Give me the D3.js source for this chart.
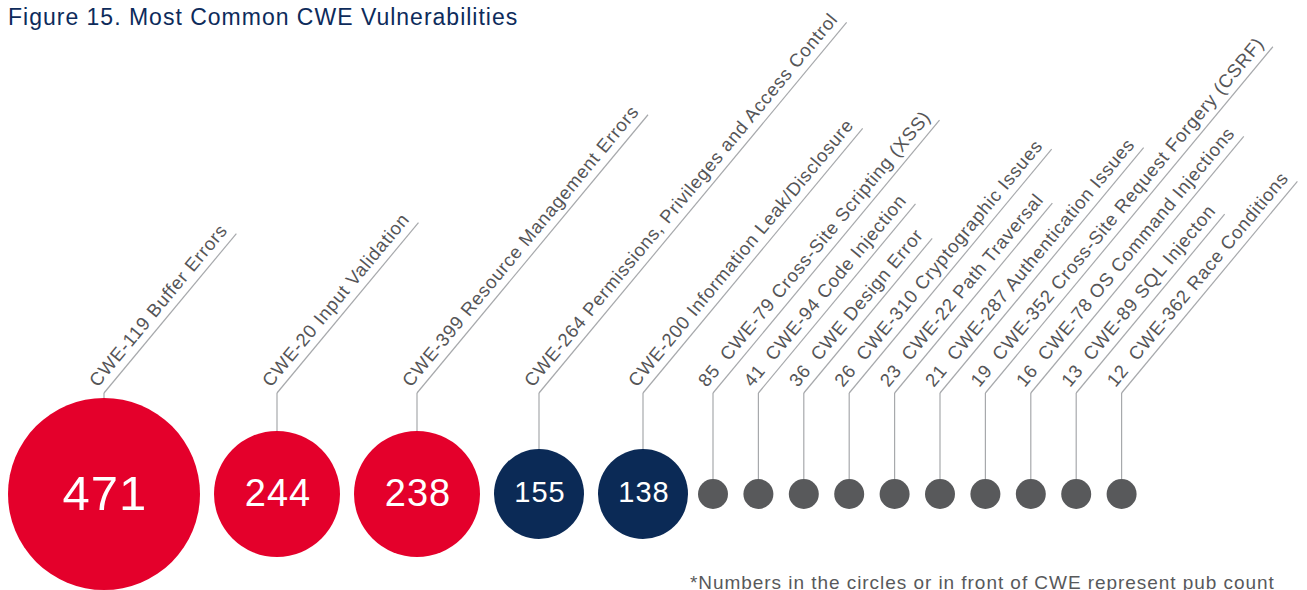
<!DOCTYPE html>
<html>
<head>
<meta charset="utf-8">
<script src="https://cdn.jsdelivr.net/npm/d3@7"></script>
<style>
  html, body { margin: 0; padding: 0; background: #ffffff; }
  svg { display: block; font-family: "Liberation Sans", Arial, sans-serif; }
</style>
</head>
<body>
<svg id="chart" width="1307" height="590"></svg>
<script>
// ---- data ----
const titleText = "Figure 15. Most Common CWE Vulnerabilities";
const footnoteText = "*Numbers in the circles or in front of CWE represent pub count";
const categories = [
  "CWE-119 Buffer Errors",
  "CWE-20 Input Validation",
  "CWE-399 Resource Management Errors",
  "CWE-264 Permissions, Privileges and Access Control",
  "CWE-200 Information Leak/Disclosure",
  "CWE-79 Cross-Site Scripting (XSS)",
  "CWE-94 Code Injection",
  "CWE Design Error",
  "CWE-310 Cryptographic Issues",
  "CWE-22 Path Traversal",
  "CWE-287 Authentication Issues",
  "CWE-352 Cross-Site Request Forgery (CSRF)",
  "CWE-78 OS Command Injections",
  "CWE-89 SQL Injecton",
  "CWE-362 Race Conditions"
];
const counts = [471, 244, 238, 155, 138, 85, 41, 36, 26, 23, 21, 19, 16, 13, 12];

// ---- scales ----
const rScale = d3.scaleThreshold().domain([100, 200, 400]).range([15, 45, 63, 96]);
const colorScale = d3.scaleThreshold().domain([100, 200]).range(["#58595B", "#0B2A56", "#E4002B"]);
const fontScale = d3.scaleThreshold().domain([200, 400]).range([29, 38, 49]);

const data = categories.map((c, i) => ({ name: c, value: counts[i] }));
const big = data.filter(d => d.value >= 100);
const small = data.filter(d => d.value < 100);

// cumulative layout for big circles
let right = 8;
big.forEach((d, i) => {
  const r = rScale(d.value);
  d.r = r;
  d.x = right + (i === 0 ? 0 : 14) + r;
  right = d.x + r;
});
const xSmall = d3.scalePoint()
  .domain(small.map(d => d.name))
  .range([right + 25, right + 25 + 45.4 * (small.length - 1)]);
small.forEach(d => { d.r = rScale(d.value); d.x = xSmall(d.name); });

const cy = 494;
const elbowY = 393;
const angle = -50.3;

const svg = d3.select("#chart");

// title
svg.append("text")
  .attr("x", 8).attr("y", 25)
  .attr("fill", "#0D2B5B")
  .style("font-size", "23px")
  .style("letter-spacing", "1px")
  .text(titleText);

// footnote
svg.append("text")
  .attr("x", 690).attr("y", 589)
  .attr("fill", "#58595B")
  .style("font-size", "19px")
  .style("letter-spacing", "0.95px")
  .text(footnoteText);

const g = svg.append("g");

// vertical leader lines
g.selectAll("line.vert").data(data).join("line")
  .attr("class", "vert")
  .attr("x1", d => d.x).attr("x2", d => d.x)
  .attr("y1", d => cy - d.r).attr("y2", elbowY)
  .attr("stroke", "#A7A9AC").attr("stroke-width", 1.2);

// labels + diagonal lines
const lab = g.selectAll("g.lab").data(data).join("g")
  .attr("class", "lab")
  .attr("transform", d => `translate(${d.x},${elbowY}) rotate(${angle})`);

lab.append("text")
  .attr("x", 0).attr("y", -8)
  .attr("fill", "#555557")
  .style("font-size", "18.5px")
  .style("letter-spacing", "0.75px")
  .style("white-space", "pre")
  .text(d => d.value < 100 ? `${d.value}  ${d.name}` : d.name);

lab.each(function() {
  const grp = d3.select(this);
  const len = grp.select("text").node().getComputedTextLength();
  grp.insert("line", "text")
    .attr("x1", 0).attr("y1", 0)
    .attr("x2", len + 3).attr("y2", 0)
    .attr("stroke", "#A7A9AC").attr("stroke-width", 1.2);
});

// circles
g.selectAll("circle").data(data).join("circle")
  .attr("cx", d => d.x).attr("cy", cy).attr("r", d => d.r)
  .attr("fill", d => colorScale(d.value));

// values inside circles
g.selectAll("text.val").data(big).join("text")
  .attr("class", "val")
  .attr("x", d => d.x + 1)
  .attr("y", d => cy + fontScale(d.value) * 0.358 - 2)
  .attr("text-anchor", "middle")
  .attr("fill", "#ffffff")
  .style("font-size", d => fontScale(d.value) + "px")
  .style("letter-spacing", "1px")
  .text(d => d.value);
</script>
</body>
</html>
